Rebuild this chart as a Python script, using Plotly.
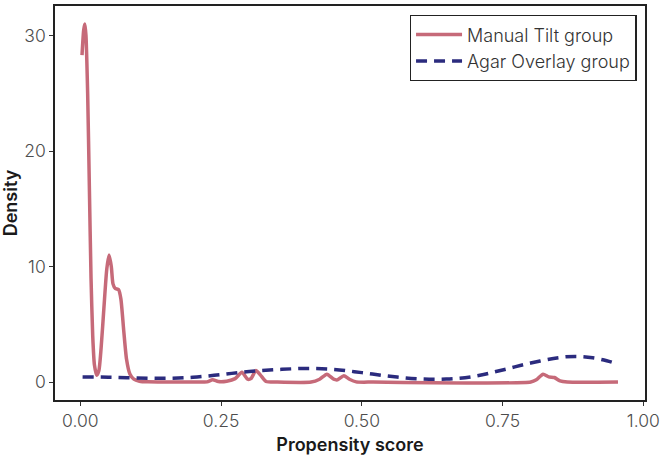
import plotly.graph_objects as go

# Manual Tilt group density
manual_x = [0.003, 0.006, 0.008, 0.010, 0.013, 0.016, 0.019, 0.022, 0.025, 0.029,
            0.033, 0.037, 0.042, 0.047, 0.051, 0.055, 0.058, 0.062, 0.068, 0.072,
            0.077, 0.082, 0.088, 0.095, 0.105, 0.12, 0.15, 0.20, 0.225, 0.235,
            0.245, 0.26, 0.275, 0.287, 0.297, 0.303, 0.312, 0.32, 0.33, 0.35,
            0.41, 0.425, 0.438, 0.45, 0.457, 0.468, 0.478, 0.49, 0.52, 0.80,
            0.81, 0.822, 0.832, 0.842, 0.852, 0.865, 0.955]
manual_y = [28.3, 30.5, 31.0, 30.0, 25.0, 17.0, 9.0, 4.0, 1.5, 0.6,
            1.0, 3.0, 6.5, 9.8, 11.0, 10.0, 8.5, 8.1, 8.0, 7.2,
            4.5, 2.0, 0.7, 0.25, 0.08, 0.02, 0.0, 0.0, 0.02, 0.2,
            0.05, 0.08, 0.3, 0.85, 0.25, 0.3, 1.0, 0.6, 0.05, 0.0,
            0.0, 0.25, 0.68, 0.25, 0.2, 0.55, 0.25, 0.02, 0.0, 0.0,
            0.2, 0.68, 0.45, 0.4, 0.1, 0.0, 0.0]

# Agar Overlay group density
agar_x = [0.004, 0.05, 0.10, 0.15, 0.20, 0.25, 0.30, 0.35, 0.40, 0.45,
          0.50, 0.55, 0.60, 0.65, 0.70, 0.75, 0.80, 0.85, 0.88, 0.91,
          0.935, 0.955]
agar_y = [0.45, 0.42, 0.36, 0.33, 0.42, 0.65, 0.92, 1.08, 1.18, 1.10,
          0.82, 0.50, 0.28, 0.26, 0.50, 1.05, 1.65, 2.12, 2.22, 2.10,
          1.85, 1.55]

x_ticks = [0, 0.25, 0.5, 0.75, 1.0]
x_ticklabels = ["0.00", "0.25", "0.50", "0.75", "1.00"]
y_ticks = [0, 10, 20, 30]

FONT = "Inter"

fig = go.Figure()
fig.add_trace(go.Scatter(x=manual_x, y=manual_y, mode="lines", name="Manual Tilt group",
                         line=dict(color="#C66A79", width=3.5, shape="spline", smoothing=0.6)))
fig.add_trace(go.Scatter(x=agar_x, y=agar_y, mode="lines", name="Agar Overlay group",
                         line=dict(color="#2B2B7E", width=3.5, dash="11px,7px",
                                   shape="spline", smoothing=1.0)))

axis_common = dict(showline=True, linecolor="#222", linewidth=1.5, mirror=True,
                   ticks="outside", ticklen=4, tickcolor="#333", tickwidth=1.2,
                   showgrid=False, zeroline=False,
                   tickfont=dict(family=FONT, size=17.5, color="#4D4D4D", weight=300))

fig.update_layout(
    width=664, height=457,
    margin=dict(l=53, r=19, t=4, b=57),
    plot_bgcolor="white", paper_bgcolor="white",
    xaxis=dict(range=[-0.045, 1.003], tickvals=x_ticks, ticktext=x_ticklabels,
               title=dict(text="Propensity score", standoff=9,
                          font=dict(family=FONT, size=18, color="#1a1a1a", weight=600)),
               **axis_common),
    yaxis=dict(range=[-1.55, 32.55], tickvals=y_ticks,
               title=dict(text="Density", standoff=8,
                          font=dict(family=FONT, size=18, color="#1a1a1a", weight=600)),
               **axis_common),
    legend=dict(x=0.986, y=0.977, xanchor="right", yanchor="top",
                bordercolor="#222", borderwidth=1.3, bgcolor="white",
                font=dict(family=FONT, size=18, color="#333", weight=300),
                itemwidth=46, tracegroupgap=0),
    showlegend=True,
)

fig.write_html("out.html")
